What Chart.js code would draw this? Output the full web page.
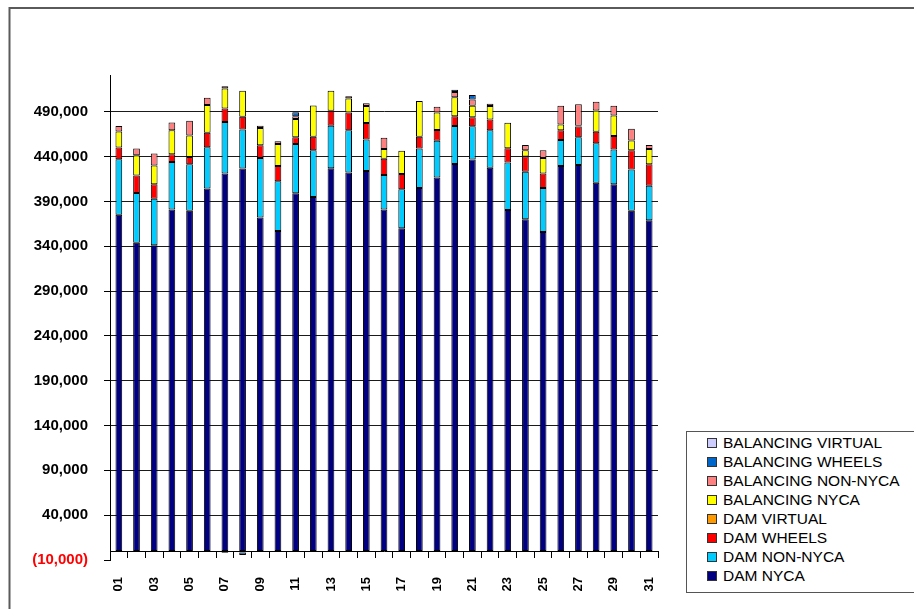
<!DOCTYPE html>
<html>
<head>
<meta charset="utf-8">
<script src="https://cdn.jsdelivr.net/npm/chart.js@4"></script>
<style>
  html, body { margin: 0; padding: 0; background: #fff; overflow: hidden; }
  #wrap { position: relative; width: 914px; height: 609px; }
  #c { position: absolute; left: 0; top: 0; }
  #legend {
    position: absolute; left: 686px; top: 431px; width: 260px; height: 162px;
    border: 1px solid #555; box-sizing: border-box; background: #fff;
    font: 15.5px 'Liberation Sans', Arial, sans-serif; color: #000;
  }
  .item { position: absolute; left: 20px; height: 19px; display: flex; align-items: center; white-space: nowrap; }
  .sw { width: 8px; height: 8px; border: 1px solid #333; margin-right: 6px; flex: none; }
</style>
</head>
<body>
<div id="wrap">
  <canvas id="c" width="914" height="609"></canvas>
  <div id="legend"></div>
</div>
<script>
// Days of the month
const days = ['01','02','03','04','05','06','07','08','09','10','11','12','13','14','15','16',
              '17','18','19','20','21','22','23','24','25','26','27','28','29','30','31'];

// Daily volumes by component (stacked bottom to top)
const damNyca = [375000,344000,341000,381000,379500,404500,421000,426800,372000,357000,399000,395000,
                 427000,422300,424000,381000,360000,405000,416700,431600,436800,427500,380300,370000,
                 356000,429400,430500,410800,409000,379500,369000];
const damNonNyca = [62000,55500,52000,53000,52000,46000,57500,43500,66500,55500,55000,52000,
                    47500,47000,35000,38500,43500,44000,41000,42500,37000,42000,53000,53000,
                    49000,29000,31000,44000,39000,46000,38500];
const damWheels = [13000,19500,16000,8500,8000,16000,15000,14000,14000,17000,7500,15000,
                   16500,20000,18500,18000,17000,13000,12000,11000,10000,12000,16000,17000,
                   16000,11000,12000,13000,15000,21500,24000];
const damVirtual = [0,0,0,0,0,0,0,0,0,0,0,0,0,0,0,0,0,0,0,0,0,0,0,0,0,0,0,0,0,0,0];
const balNyca = [18000,22500,21000,27000,24000,31000,22500,29000,19500,24500,20500,35000,
                 22500,15500,19000,11000,26000,40000,19500,21000,13000,15000,28500,7000,
                 17500,6400,1000,23500,22700,11000,17000];
const balNonNyca = [6000,7500,13500,8500,16500,8000,2500,-1500,2500,3000,3000,0,
                    0,2500,3000,12500,0,0,6500,6000,7000,2500,0,6000,
                    8500,20800,24000,10000,11000,13000,4500];
const balWheels = [0,0,0,0,0,0,-2000,-3000,0,0,4500,0,0,0,0,0,0,0,0,2500,4800,0,0,0,0,0,0,0,0,0,0];
const balVirtual = [0,0,0,0,0,0,0,0,0,0,0,0,0,0,0,0,0,0,0,0,0,0,0,0,0,0,0,0,0,0,0];

// Value-axis tick values
const yTicks = [-10000,40000,90000,140000,190000,240000,290000,340000,390000,440000,490000];

const FONT = "'Liberation Sans', Arial, sans-serif";

const series = [
  { label: 'DAM NYCA',           data: damNyca,     color: '#000080' },
  { label: 'DAM NON-NYCA',       data: damNonNyca,  color: '#00ccff' },
  { label: 'DAM WHEELS',         data: damWheels,   color: '#ff0000' },
  { label: 'DAM VIRTUAL',        data: damVirtual,  color: '#ff9900' },
  { label: 'BALANCING NYCA',     data: balNyca,     color: '#ffff00' },
  { label: 'BALANCING NON-NYCA', data: balNonNyca,  color: '#ff8080' },
  { label: 'BALANCING WHEELS',   data: balWheels,   color: '#0066cc' },
  { label: 'BALANCING VIRTUAL',  data: balVirtual,  color: '#ccccff' }
];

function fmt(v) {
  const s = Math.abs(v).toLocaleString('en-US');
  return v < 0 ? '(' + s + ')' : s;
}

// Thin frame around the whole chart
const framePlugin = {
  id: 'frame',
  beforeDraw(chart) {
    const ctx = chart.ctx;
    ctx.save();
    ctx.strokeStyle = '#5a5a5a';
    ctx.lineWidth = 2;
    ctx.beginPath();
    ctx.moveTo(9.5, 609);
    ctx.lineTo(9.5, 8);
    ctx.lineTo(914, 8);
    ctx.stroke();
    ctx.restore();
  }
};

const chart = new Chart(document.getElementById('c'), {
  type: 'bar',
  data: {
    labels: days,
    datasets: series.map(s => ({
      label: s.label,
      data: s.data,
      backgroundColor: s.color,
      borderColor: '#000',
      borderWidth: 1,
      borderSkipped: false,
      barPercentage: 0.38,
      categoryPercentage: 1
    }))
  },
  options: {
    responsive: false,
    animation: false,
    layout: { padding: { left: 20, right: 256, top: 75, bottom: 49 } },
    plugins: { legend: { display: false }, tooltip: { enabled: false } },
    scales: {
      x: {
        stacked: true,
        position: { y: 0 },
        offset: true,
        grid: { drawOnChartArea: false, drawTicks: true, tickLength: 6, color: '#000', offset: true },
        border: { color: '#000', width: 1 },
        ticks: {
          autoSkip: false, minRotation: 90, maxRotation: 90, padding: 20, color: '#000',
          font: { family: FONT, size: 13, weight: 'bold' },
          callback: (v, i) => (i % 2 === 0 ? days[i] : '')
        }
      },
      y: {
        stacked: true,
        min: -10000,
        max: 531000,
        afterFit(scale) { scale.width = 90; },
        afterBuildTicks(scale) { scale.ticks = yTicks.map(v => ({ value: v })); },
        grid: {
          color: c => (c.tick && c.tick.value === -10000 ? 'rgba(0,0,0,0)' : '#1a1a1a'),
          tickColor: '#000',
          tickLength: 6,
          lineWidth: 1
        },
        border: { color: '#000', width: 1 },
        ticks: {
          padding: 16,
          color: c => (c.tick && c.tick.value < 0 ? '#ff0000' : '#000'),
          font: { family: FONT, size: 15, weight: 'bold' },
          callback: v => fmt(v)
        }
      }
    }
  },
  plugins: [framePlugin]
});

// Legend, listed top series first
const legend = document.getElementById('legend');
chart.data.datasets.slice().reverse().forEach((ds, i) => {
  const item = document.createElement('div');
  item.className = 'item';
  item.style.top = (1 + i * 19.1) + 'px';
  const sw = document.createElement('span');
  sw.className = 'sw';
  sw.style.background = ds.backgroundColor;
  const tx = document.createElement('span');
  tx.textContent = ds.label;
  item.appendChild(sw);
  item.appendChild(tx);
  legend.appendChild(item);
});
</script>
</body>
</html>
